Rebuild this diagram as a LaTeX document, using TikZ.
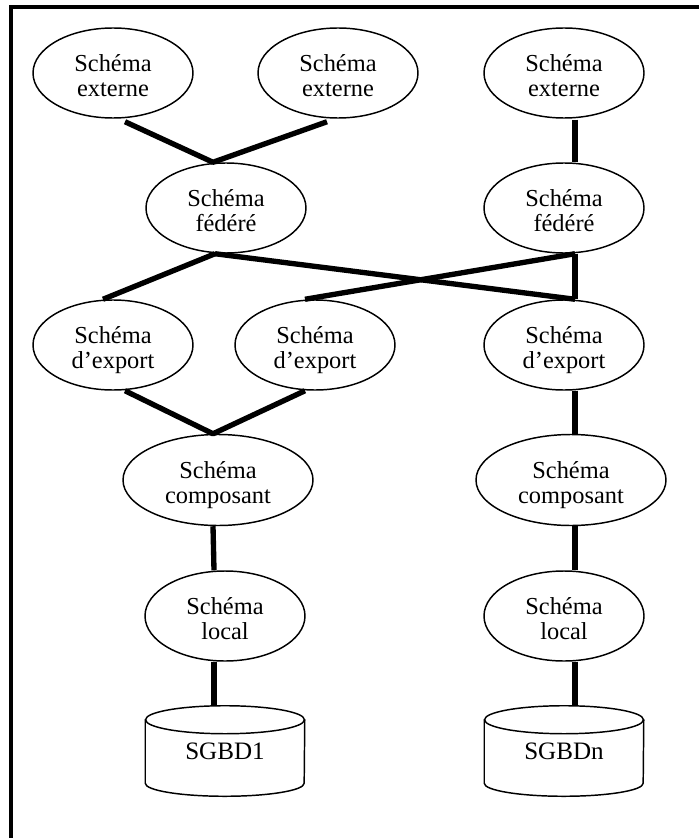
\documentclass[tikz,border=0pt]{standalone}
\usepackage{fontspec}
\setmainfont{Liberation Serif}
\usetikzlibrary{shapes.geometric,calc}

\begin{document}
\begin{tikzpicture}[
  x=0.75pt, y=-0.75pt,
  txt/.style={align=center, inner sep=0pt, yshift=-4.6pt,
    font=\fontsize{18.3}{18.75}\selectfont,
    execute at begin node=\strut, execute at end node=\strut},
  schema/.style={ellipse, draw, line width=1.1pt, inner sep=0pt,
    minimum width=120pt, minimum height=67.5pt, label={[txt]center:#1}},
  wide/.style={minimum width=142.5pt, minimum height=68.25pt},
  dbnode/.style={rectangle, inner sep=0pt, minimum width=119.25pt,
    minimum height=67.5pt, font=\fontsize{18.8}{22}\selectfont},
  link/.style={line width=4pt},
  outline/.style={line width=1.1pt}
]
\useasboundingbox (0,0) rectangle (699,838);

% frame (top and left edges)
\draw[line width=2.8pt] (699,6.7) -- (11.3,6.7) -- (11.3,838);

% external schemas
\node[schema={Schéma\\externe}] (ext1) at (113,73) {};
\node[schema={Schéma\\externe}] (ext2) at (338,73) {};
\node[schema={Schéma\\externe}] (ext3) at (564,73) {};

% federated schemas
\node[schema={Schéma\\fédéré}] (fed1) at (226,208) {};
\node[schema={Schéma\\fédéré}] (fed2) at (564,208) {};

% export schemas
\node[schema={Schéma\\d’export}] (exp1) at (113,345) {};
\node[schema={Schéma\\d’export}] (exp2) at (315,345) {};
\node[schema={Schéma\\d’export}] (exp3) at (564,345) {};

% component schemas
\node[schema={Schéma\\composant}, wide] (comp1) at (218,480) {};
\node[schema={Schéma\\composant}, wide] (comp2) at (571,480) {};

% local schemas
\node[schema={Schéma\\local}] (loc1) at (225,616) {};
\node[schema={Schéma\\local}] (loc2) at (564,616) {};

% database systems (cylinders)
\node[dbnode] (db1) at (225,751) {SGBD1};
\node[dbnode] (dbn) at (564,751) {SGBDn};
\foreach \d in {db1,dbn}{
  \draw[outline] ($(\d.north west)+(0,14)$) -- ($(\d.south west)+(0,-13)$)
    arc[start angle=180, end angle=360, x radius=59.6pt, y radius=9.75pt]
    -- ($(\d.north east)+(0,14)$);
  \draw[outline] ($(\d.north)+(0,14)$) ellipse[x radius=59.6pt, y radius=10.5pt];
}

% connectors: external -> federated
\draw[link, line join=bevel] ($(ext1.south)+(12,3)$) -- ($(fed1.north)+(-13,0)$) -- ($(ext2.south)+(-11,3)$);
\draw[link] ($(ext3.south)+(11,1)$) -- ($(fed2.north)+(11,0)$);

% connectors: federated -> export
\draw[link] ($(fed1.south)+(-11,0)$) -- ($(exp1.north)+(-10,0)$);
\draw[link] ($(fed1.south)+(-11,0)$) -- ($(exp3.north)+(11,0)$);
\draw[link] ($(fed2.south)+(11,0)$) -- ($(exp2.north)+(-10,0)$);
\draw[link] ($(fed2.south)+(11,0)$) -- ($(exp3.north)+(11,0)$);

% connectors: export -> component
\draw[link, line join=bevel] ($(exp1.south)+(12,0)$) -- ($(comp1.north)+(-5,0)$) -- ($(exp2.south)+(-10,0)$);
\draw[link] ($(exp3.south)+(11,0)$) -- ($(comp2.north)+(4,0)$);

% connectors: component -> local -> database
\draw[link] ($(comp1.south)+(-5,0)$) -- ($(loc1.north)+(-11,0)$);
\draw[link] ($(comp2.south)+(4,0)$) -- ($(loc2.north)+(11,0)$);
\draw[link] ($(loc1.south)+(-11,0)$) -- ($(db1.north)+(-11,0)$);
\draw[link] ($(loc2.south)+(11,0)$) -- ($(dbn.north)+(11,0)$);
\end{tikzpicture}
\end{document}
